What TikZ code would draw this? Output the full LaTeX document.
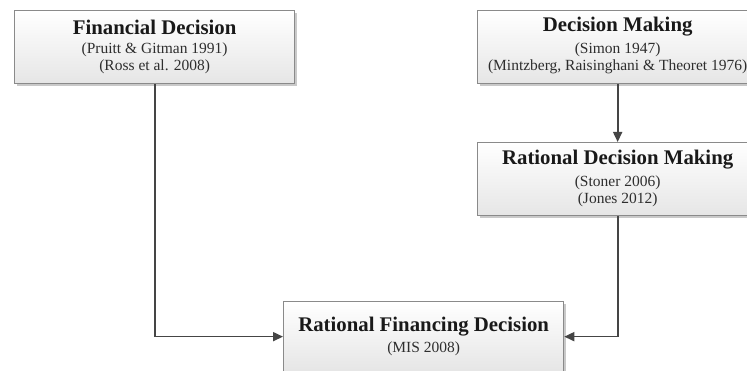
\documentclass[tikz,border=0pt]{standalone}
\usepackage{fontspec}
\setmainfont{Liberation Serif}
\usetikzlibrary{arrows.meta,shadows,calc}
\definecolor{boxborder}{HTML}{8A8A8A}
\definecolor{arrowcol}{HTML}{454545}
\definecolor{subcol}{HTML}{2E2E2E}
\tikzset{
  box/.style={draw=boxborder, line width=1.3pt, top color=white, bottom color=black!10,
    minimum width=280pt, minimum height=73pt, anchor=north west, inner sep=0pt,
    drop shadow={shadow xshift=2pt, shadow yshift=-2pt, fill=black!35, opacity=0.6}},
  titletext/.style={font=\fontsize{20.8}{22}\selectfont\bfseries, text=black!90, inner sep=0pt},
  subtext/.style={font=\fontsize{15.5}{17}\selectfont, text=subcol, inner sep=0pt},
  conn/.style={draw=arrowcol, line width=1.7pt, -{Triangle[length=10pt,width=9pt]}}
}
\begin{document}
\begin{tikzpicture}[x=1pt,y=-1pt]
\useasboundingbox[fill=white] (0,0) rectangle (747,371);
% boxes
\node[box] (fd) at (14,10) {};
\node[box] (dm) at (477,10) {};
\node[box] (rdm) at (477,142) {};
\node[box, minimum height=70pt] (rfd) at (283,301) {};
% texts
\node[titletext] (fdT) at ($(fd.north)+(0,17)$) {Financial Decision};
\node[subtext] (fdA) at ($(fd.north)+(0,40)$) {(Pruitt \& Gitman 1991)};
\node[subtext] (fdB) at ($(fd.north)+(0,57)$) {(Ross et al. 2008)};
\node[titletext] (dmT) at ($(dm.north)+(0,17)$) {Decision Making};
\node[subtext] (dmA) at ($(dm.north)+(0,40)$) {(Simon 1947)};
\node[subtext] (dmB) at ($(dm.north)+(0,57)$) {(Mintzberg, Raisinghani \& Theoret 1976)};
\node[titletext] (rdmT) at ($(rdm.north)+(0,18)$) {Rational Decision Making};
\node[subtext] (rdmA) at ($(rdm.north)+(0,41)$) {(Stoner 2006)};
\node[subtext] (rdmB) at ($(rdm.north)+(0,58)$) {(Jones 2012)};
\node[titletext] (rfdT) at ($(rfd.north)+(0,26)$) {Rational Financing Decision};
\node[subtext] (rfdA) at ($(rfd.north)+(0,48)$) {(MIS 2008)};
% connectors
\draw[conn] (fd.south) |- (rfd.west);
\draw[conn] (dm.south) -- (rdm.north);
\draw[conn] (rdm.south) |- (rfd.east);
\end{tikzpicture}
\end{document}
